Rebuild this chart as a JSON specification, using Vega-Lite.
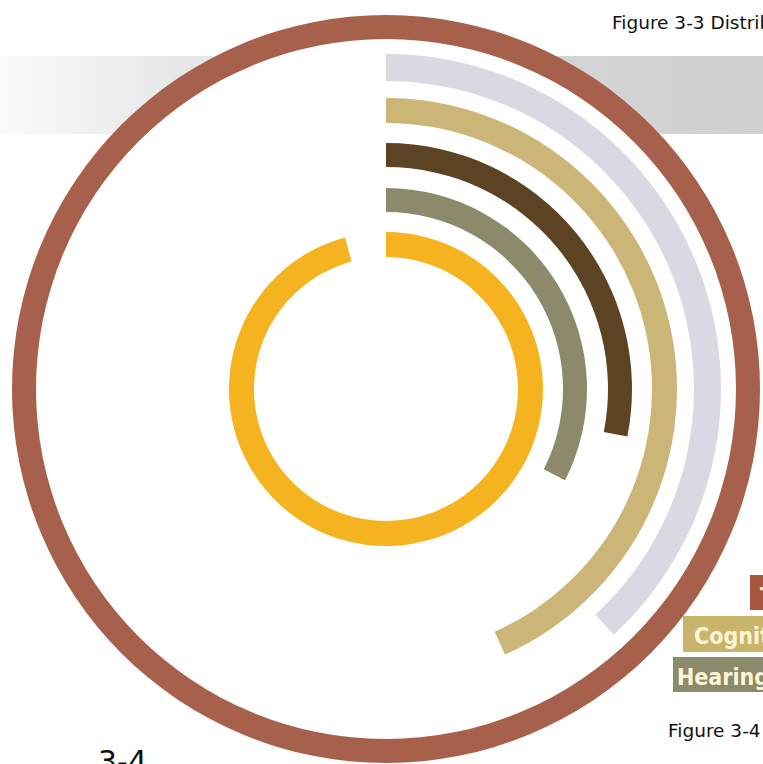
{
  "$schema": "https://vega.github.io/schema/vega-lite/v6.json",
  "autosize": "none",
  "width": 754,
  "height": 750,
  "padding": {"left": 9, "top": 14, "right": 0, "bottom": 0},
  "background": "white",
  "config": {"view": {"stroke": null}},
  "data": {
    "values": [
      {"category": "Total", "pct": 100},
      {"category": "Independent Living", "pct": 38.1},
      {"category": "Cognitive", "pct": 43.3},
      {"category": "Ambulatory", "pct": 28.1},
      {"category": "Hearing", "pct": 32.5},
      {"category": "Vision", "pct": 95.8}
    ]
  },
  "layer": [
    {
      "data": {"values": [{}]},
      "mark": {"type": "rect", "x": -9, "x2": 754, "y": 42, "y2": 120,
        "fill": {"gradient": "linear", "x1": 0, "x2": 1, "y1": 0, "y2": 0,
          "stops": [
            {"offset": 0, "color": "#fbfbfb"},
            {"offset": 0.22, "color": "#e7e8e9"},
            {"offset": 0.75, "color": "#d3d4d6"},
            {"offset": 1, "color": "#cfd0d2"}
          ]}},
      "encoding": {}
    },
    {
      "data": {"values": [{}]},
      "mark": {"type": "arc", "radius": 362, "radius2": 0, "theta": 0, "theta2": 6.2832, "fill": "white"},
      "encoding": {}
    },
    {
      "transform": [{"filter": "datum.category === 'Total'"}],
      "mark": {"type": "arc", "radius": 374, "radius2": 350},
      "encoding": {
        "theta": {"field": "pct", "type": "quantitative", "scale": {"domain": [0, 100]}},
        "color": {"field": "category", "type": "nominal", "legend": null,
          "scale": {"domain": ["Total", "Independent Living", "Cognitive", "Ambulatory", "Hearing", "Vision"],
            "range": ["#a7604b", "#d8d9e3", "#cbb677", "#5c4323", "#8d8a6b", "#f5b320"]}}
      }
    },
    {
      "transform": [{"filter": "datum.category === 'Independent Living'"}],
      "mark": {"type": "arc", "radius": 335, "radius2": 308},
      "encoding": {
        "theta": {"field": "pct", "type": "quantitative", "scale": {"domain": [0, 100]}},
        "color": {"field": "category", "type": "nominal", "legend": null}
      }
    },
    {
      "transform": [{"filter": "datum.category === 'Cognitive'"}],
      "mark": {"type": "arc", "radius": 291, "radius2": 266},
      "encoding": {
        "theta": {"field": "pct", "type": "quantitative", "scale": {"domain": [0, 100]}},
        "color": {"field": "category", "type": "nominal", "legend": null}
      }
    },
    {
      "transform": [{"filter": "datum.category === 'Ambulatory'"}],
      "mark": {"type": "arc", "radius": 246, "radius2": 222},
      "encoding": {
        "theta": {"field": "pct", "type": "quantitative", "scale": {"domain": [0, 100]}},
        "color": {"field": "category", "type": "nominal", "legend": null}
      }
    },
    {
      "transform": [{"filter": "datum.category === 'Hearing'"}],
      "mark": {"type": "arc", "radius": 201, "radius2": 177},
      "encoding": {
        "theta": {"field": "pct", "type": "quantitative", "scale": {"domain": [0, 100]}},
        "color": {"field": "category", "type": "nominal", "legend": null}
      }
    },
    {
      "transform": [{"filter": "datum.category === 'Vision'"}],
      "mark": {"type": "arc", "radius": 157, "radius2": 132},
      "encoding": {
        "theta": {"field": "pct", "type": "quantitative", "scale": {"domain": [0, 100]}},
        "color": {"field": "category", "type": "nominal", "legend": null}
      }
    },
    {
      "data": {"values": [{"t": "Figure 3-3 Distribution of Disability Types"}]},
      "mark": {"type": "text", "x": 603, "y": 15, "align": "left", "baseline": "alphabetic",
        "font": "DejaVu Sans", "fontSize": 18.5, "color": "#111111"},
      "encoding": {"text": {"field": "t"}}
    },
    {
      "data": {"values": [{"t": "Figure 3-4 Distribution"}]},
      "mark": {"type": "text", "x": 659, "y": 723, "align": "left", "baseline": "alphabetic",
        "font": "DejaVu Sans", "fontSize": 18.5, "color": "#111111"},
      "encoding": {"text": {"field": "t"}}
    },
    {
      "data": {"values": [{"t": "3-4"}]},
      "mark": {"type": "text", "x": 89, "y": 758, "align": "left", "baseline": "alphabetic",
        "font": "DejaVu Sans", "fontSize": 30, "color": "#111111"},
      "encoding": {"text": {"field": "t"}}
    },
    {
      "data": {"values": [{}]},
      "mark": {"type": "rect", "x": 741, "x2": 800, "y": 561, "y2": 596, "fill": "#a8563f"},
      "encoding": {}
    },
    {
      "data": {"values": [{}]},
      "mark": {"type": "rect", "x": 674, "x2": 800, "y": 602, "y2": 638, "fill": "#c9b46c"},
      "encoding": {}
    },
    {
      "data": {"values": [{}]},
      "mark": {"type": "rect", "x": 664, "x2": 800, "y": 643, "y2": 678, "fill": "#8b8a6b"},
      "encoding": {}
    },
    {
      "data": {"values": [{"t": "Total"}]},
      "mark": {"type": "text", "x": 751, "y": 590, "align": "left", "baseline": "alphabetic",
        "font": "DejaVu Sans Condensed, Liberation Sans, sans-serif", "fontWeight": "bold", "fontSize": 23, "color": "#fff5d6"},
      "encoding": {"text": {"field": "t"}}
    },
    {
      "data": {"values": [{"t": "Cognitive"}]},
      "mark": {"type": "text", "x": 685, "y": 630, "align": "left", "baseline": "alphabetic",
        "font": "DejaVu Sans Condensed, Liberation Sans, sans-serif", "fontWeight": "bold", "fontSize": 23, "color": "#fff5d6"},
      "encoding": {"text": {"field": "t"}}
    },
    {
      "data": {"values": [{"t": "Hearing"}]},
      "mark": {"type": "text", "x": 668, "y": 671, "align": "left", "baseline": "alphabetic",
        "font": "DejaVu Sans Condensed, Liberation Sans, sans-serif", "fontWeight": "bold", "fontSize": 23, "color": "#fff5d6"},
      "encoding": {"text": {"field": "t"}}
    }
  ]
}
